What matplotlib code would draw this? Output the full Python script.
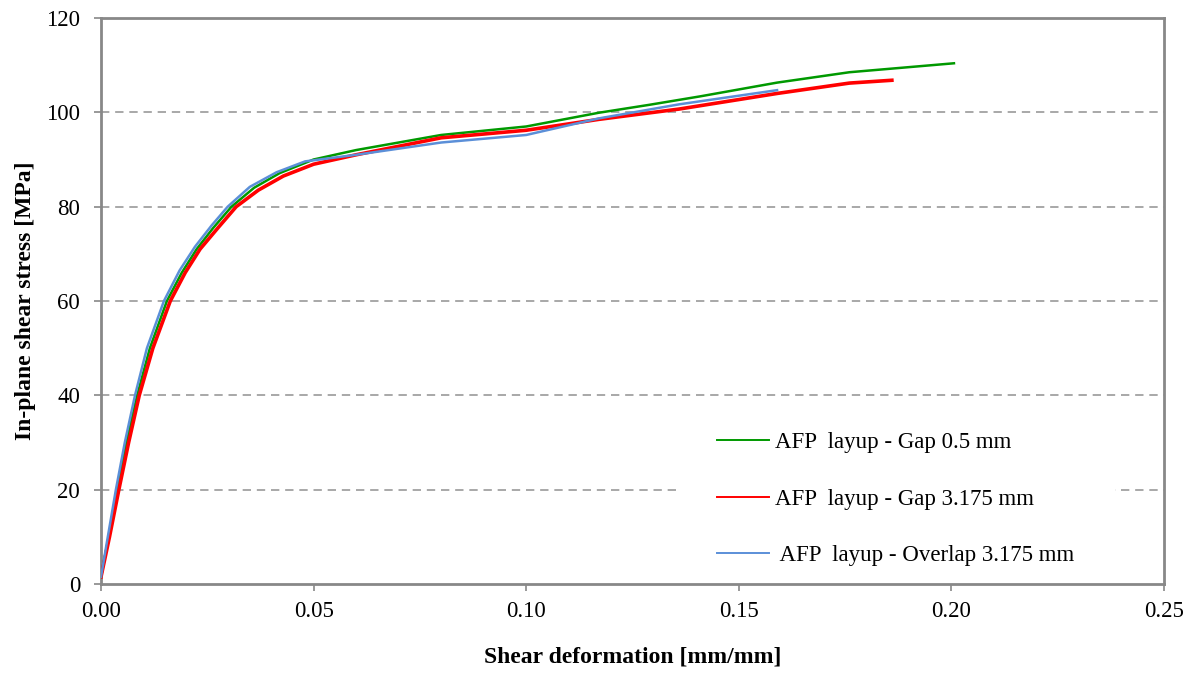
import numpy as np
import matplotlib
matplotlib.use('Agg')
import matplotlib.pyplot as plt
from matplotlib.patches import Rectangle

plt.rcParams['font.family'] = ['Liberation Serif', 'DejaVu Serif']

# values
gap05_x = [0, 0.0018, 0.0038, 0.006, 0.0085, 0.0115, 0.0155, 0.019, 0.0225, 0.0264, 0.0307,
           0.036, 0.042, 0.05, 0.06, 0.08, 0.1, 0.117, 0.129, 0.141, 0.159, 0.176, 0.2006]
gap05_y = [1.5, 10, 20, 30, 40, 50, 60, 66, 71, 75.5, 80,
           84, 87.1, 90, 92, 95.2, 97.0, 99.9, 101.6, 103.4, 106.3, 108.5, 110.4]

gap3_x = [0, 0.002, 0.0042, 0.0065, 0.009, 0.0122, 0.0163, 0.0198, 0.0233, 0.0275, 0.0318,
          0.037, 0.0429, 0.05, 0.06, 0.08, 0.1, 0.117, 0.136, 0.159, 0.176, 0.186]
gap3_y = [1.5, 10, 20, 30, 40, 50, 60, 66, 71, 75.5, 80,
          83.5, 86.5, 89, 91.0, 94.6, 96.2, 98.5, 100.7, 104.0, 106.2, 106.8]

overlap_x = [0, 0.0016, 0.0035, 0.0056, 0.008, 0.0108, 0.0148, 0.0185, 0.0221, 0.026, 0.0298,
             0.035, 0.0413, 0.048, 0.06, 0.08, 0.1, 0.117, 0.136, 0.159]
overlap_y = [1.5, 10, 20, 30, 40, 50, 60, 66.5, 71.5, 76, 80,
             84.2, 87.3, 89.6, 91.0, 93.6, 95.2, 98.7, 101.7, 104.7]

labels = ['AFP  layup - Gap 0.5 mm', 'AFP  layup - Gap 3.175 mm', ' AFP  layup - Overlap 3.175 mm']
colors = ['#009900', '#ff0000', '#5b8fd8']

x_ticks = [0.0, 0.05, 0.10, 0.15, 0.20, 0.25]
y_ticks = [0, 20, 40, 60, 80, 100, 120]

fig = plt.figure(figsize=(11.94, 6.78), dpi=100)
ax = fig.add_axes([101/1194, 1 - 584/678, 1063/1194, 566/678])

ax.plot(gap05_x, gap05_y, color=colors[0], lw=1.8, label=labels[0], zorder=3)
ax.plot(gap3_x, gap3_y, color=colors[1], lw=2.6, label=labels[1], zorder=3)
ax.plot(overlap_x, overlap_y, color=colors[2], lw=1.8, label=labels[2], zorder=3)

ax.set_xlim(0, 0.25)
ax.set_ylim(0, 120)
ax.set_xticks(x_ticks)
ax.set_xticklabels(['%.2f' % v for v in x_ticks])
ax.set_yticks(y_ticks)

for v in y_ticks[1:-1]:
    ax.axhline(v, color='#999999', lw=1.2, ls=(0, (5, 3.5)), zorder=1)

for s in ax.spines.values():
    s.set_color('#888888')
    s.set_linewidth(2)

ax.tick_params(direction='out', length=5, width=1.2, color='#888888',
               labelsize=16.5, pad=7)
ax.tick_params(axis='y', pad=10)

ax.set_xlabel('Shear deformation [mm/mm]', fontsize=17, fontweight='bold', labelpad=18)
ax.set_ylabel('In-plane shear stress [MPa]', fontsize=17, fontweight='bold', labelpad=7)

# white box behind legend hides the gridline
ax.add_patch(Rectangle((0.5447, 0.011), 0.409, 0.279, transform=ax.transAxes,
                       facecolor='white', edgecolor='none', zorder=2))

leg = ax.legend(loc='upper left', bbox_to_anchor=(0.5795, 0.268),
                fontsize=16.5, frameon=False, handlelength=2.27, handletextpad=0.26,
                labelspacing=1.55, borderpad=0, borderaxespad=0)
for h in leg.get_lines():
    h.set_linewidth(1.4)
leg.set_zorder(4)

fig.savefig('out.png', dpi=100)
